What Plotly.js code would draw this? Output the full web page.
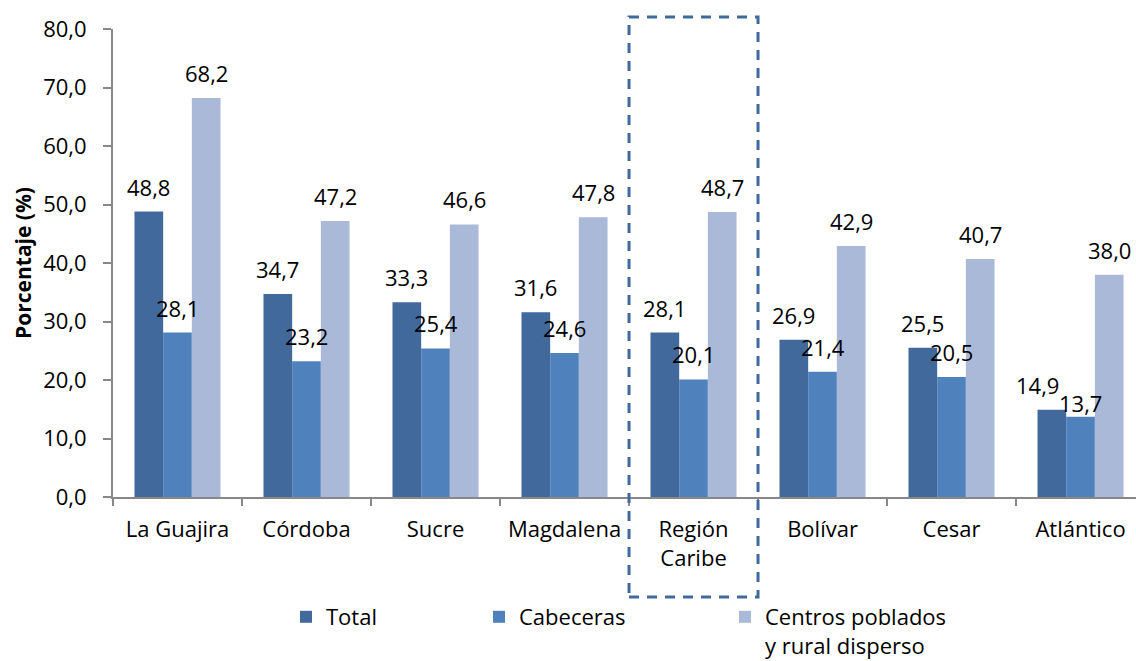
<!DOCTYPE html>
<html>
<head>
<meta charset="utf-8">
<script src="https://cdn.plot.ly/plotly-3.0.1.min.js"></script>
<style>html,body{margin:0;padding:0;background:#fff;}#chart{width:1136px;height:661px;}</style>
</head>
<body>
<div id="chart"></div>
<script>
const categories = ["La Guajira", "Córdoba", "Sucre", "Magdalena", "Región<br>Caribe", "Bolívar", "Cesar", "Atlántico"];
const totalValues = [48.8, 34.7, 33.3, 31.6, 28.1, 26.9, 25.5, 14.9];
const cabecerasValues = [28.1, 23.2, 25.4, 24.6, 20.1, 21.4, 20.5, 13.7];
const centrosValues = [68.2, 47.2, 46.6, 47.8, 48.7, 42.9, 40.7, 38.0];
const seriesNames = ["Total", "Cabeceras", "Centros poblados<br>y rural disperso"];
const yTickVals = [0, 10, 20, 30, 40, 50, 60, 70, 80];
const highlightCategory = "Región<br>Caribe";

const colors = ["#41699C", "#4F81BD", "#AAB9D8"];
const FONT = "Open Sans, Noto Sans, sans-serif";
const FS = 22;
const seriesValues = [totalValues, cabecerasValues, centrosValues];

const traces = seriesValues.map((vals, s) => ({
  type: "bar",
  x: categories,
  y: vals,
  name: seriesNames[s],
  marker: {color: colors[s], line: {width: 0}},
  legend: s === 0 ? "legend" : ("legend" + (s + 1)),
  showlegend: true,
  hoverinfo: "skip"
}));

const fmt = v => v.toFixed(1).replace(".", ",");
const barPx = 129 * (1 - 0.333) / 3;
const pxPerUnit = 468 / 80;
const annotations = [];
seriesValues.forEach((vals, s) => {
  vals.forEach((v, i) => {
    let xs = (s - 1) * barPx, ys = 25;
    // simple collision avoidance between neighbouring Total / Cabeceras labels
    const close = Math.abs(totalValues[i] - cabecerasValues[i]) * pxPerUnit < 22;
    if (close && s === 0) xs -= 14;
    if (close && s === 1) ys = 14;
    annotations.push({
      x: categories[i], y: v, xref: "x", yref: "y",
      text: fmt(v), showarrow: false,
      xshift: xs, yshift: ys, yanchor: "middle",
      font: {family: FONT, size: FS, color: "#000"}
    });
  });
});

const hi = categories.indexOf(highlightCategory);
const legendBase = {
  orientation: "h", xref: "container", yref: "container",
  xanchor: "left", yanchor: "top", y: 1 - 596 / 661,
  bgcolor: "rgba(0,0,0,0)", borderwidth: 0, valign: "top",
  font: {family: FONT, size: FS, color: "#000"}
};

const layout = {
  width: 1136, height: 661,
  margin: {l: 113, r: 0, t: 29, b: 164, pad: 0},
  paper_bgcolor: "#fff", plot_bgcolor: "#fff",
  separators: ",.",
  showlegend: true,
  font: {family: FONT, size: FS, color: "#000"},
  barmode: "group", bargap: 0.333, bargroupgap: 0,
  xaxis: {
    type: "category", range: [-0.5, 7.43],
    showline: true, linecolor: "#888", linewidth: 2,
    ticks: "outside", tickson: "boundaries", ticklen: 7, tickwidth: 2, tickcolor: "#888",
    ticklabelstandoff: 12,
    tickfont: {family: FONT, size: FS, color: "#000"},
    showgrid: false, zeroline: false, fixedrange: true
  },
  yaxis: {
    range: [0, 80], tickmode: "array", tickvals: yTickVals, tickformat: ".1f",
    showline: true, linecolor: "#888", linewidth: 2,
    ticks: "outside", ticklen: 8, tickwidth: 2, tickcolor: "#888",
    ticklabelstandoff: 12,
    tickfont: {family: FONT, size: FS, color: "#000"},
    showgrid: false, zeroline: false, fixedrange: true,
    title: {text: "<b>Porcentaje (%)</b>", font: {family: FONT, size: 21, color: "#000"}, standoff: 6}
  },
  legend: Object.assign({}, legendBase, {x: 286 / 1136}),
  legend2: Object.assign({}, legendBase, {x: 479 / 1136}),
  legend3: Object.assign({}, legendBase, {x: 725 / 1136}),
  annotations: annotations,
  shapes: [{
    type: "rect", xref: "x", yref: "paper",
    x0: hi - 0.5, x1: hi + 0.5, y0: -0.2137, y1: 1.0256,
    line: {color: "#3F6A9E", width: 3, dash: "10px,8px"},
    fillcolor: "rgba(0,0,0,0)", layer: "above"
  }]
};

Plotly.newPlot("chart", traces, layout, {displayModeBar: false, staticPlot: true});
</script>
</body>
</html>
